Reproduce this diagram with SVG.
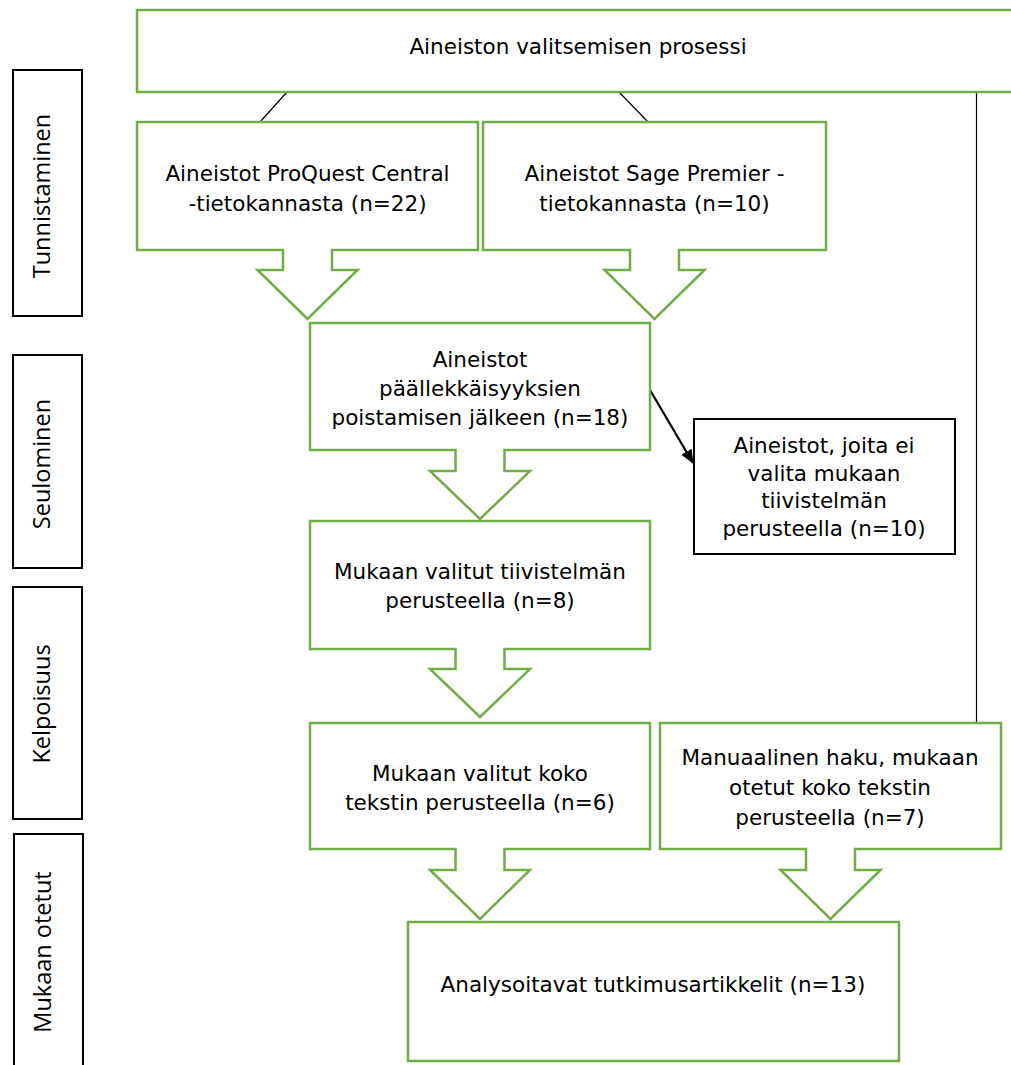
<svg xmlns="http://www.w3.org/2000/svg" width="1011" height="1065" viewBox="0 0 1011 1065">
<defs>
<style>
.g{fill:#fff;stroke:#70AD47;stroke-width:2.5}
.k{fill:#fff;stroke:#000;stroke-width:2}
.t{font-family:"DejaVu Sans",sans-serif;font-size:21.5px;fill:#000;text-anchor:middle}
.s{font-family:"Open Sans","Liberation Sans",sans-serif;font-size:23.5px;fill:#000;text-anchor:middle}
.ln{stroke:#000;stroke-width:1.2;fill:none}
</style>
<marker id="ah" markerWidth="14" markerHeight="14" refX="13" refY="7" orient="auto" markerUnits="userSpaceOnUse" viewBox="0 0 14 14">
<path d="M0,1 L14,7 L0,13 Z" fill="#000"/>
</marker>
</defs>
<rect width="1011" height="1065" fill="#fff"/>

<g id="side-tunnistaminen"><rect class="k" x="13" y="70" width="69" height="246"/><text class="s" transform="translate(50,196) rotate(-90)">Tunnistaminen</text></g>
<g id="side-seulominen"><rect class="k" x="13" y="355" width="69" height="213"/><text class="s" transform="translate(50,464) rotate(-90)">Seulominen</text></g>
<g id="side-kelpoisuus"><rect class="k" x="13" y="587" width="69" height="232"/><text class="s" transform="translate(50,704) rotate(-90)">Kelpoisuus</text></g>
<g id="side-mukaan"><rect class="k" x="14" y="834" width="69" height="240"/><text class="s" transform="translate(51,952) rotate(-90)">Mukaan otetut</text></g>

<g id="connectors">
<line class="ln" x1="287" y1="92" x2="260" y2="122"/>
<line class="ln" x1="619" y1="92" x2="648" y2="122"/>
<line class="ln" x1="976.5" y1="92" x2="976.5" y2="723"/>
<line x1="650" y1="390" x2="693" y2="463" stroke="#000" stroke-width="2.2" marker-end="url(#ah)"/>
</g>

<g id="top"><rect class="g" x="137" y="10" width="890" height="82"/><text class="t" x="578" y="54">Aineiston valitsemisen prosessi</text></g>

<g id="proquest"><path class="g" d="M137,122 H478 V250 H332 V270 H357.5 L307.5,319 L257.5,270 H283 V250 H137 Z"/>
<text class="t" x="307.5" y="181">Aineistot ProQuest Central</text><text class="t" x="307.5" y="211">-tietokannasta (n=22)</text></g>

<g id="sage"><path class="g" d="M483,122 H826 V250 H679 V270 H704.5 L654.5,319 L604.5,270 H630 V250 H483 Z"/>
<text class="t" x="654.5" y="181">Aineistot Sage Premier -</text><text class="t" x="654.5" y="211">tietokannasta (n=10)</text></g>

<g id="duplicates"><path class="g" d="M310,323 H650 V450 H504.5 V471 H530 L480,519 L430,471 H455.5 V450 H310 Z"/>
<text class="t" x="480" y="367">Aineistot</text><text class="t" x="480" y="396">päällekkäisyyksien</text><text class="t" x="480" y="425">poistamisen jälkeen (n=18)</text></g>

<g id="excluded"><rect class="k" x="694" y="419" width="261" height="135"/>
<text class="t" x="824" y="453">Aineistot, joita ei</text><text class="t" x="824" y="481">valita mukaan</text><text class="t" x="824" y="508">tiivistelmän</text><text class="t" x="824" y="536">perusteella (n=10)</text></g>

<g id="abstract"><path class="g" d="M310,521 H650 V649 H504.5 V669 H530 L480,717 L430,669 H455.5 V649 H310 Z"/>
<text class="t" x="480" y="579">Mukaan valitut tiivistelmän</text><text class="t" x="480" y="608">perusteella (n=8)</text></g>

<g id="fulltext"><path class="g" d="M310,723 H650 V849 H504.5 V870 H530 L480,919 L430,870 H455.5 V849 H310 Z"/>
<text class="t" x="480" y="781">Mukaan valitut koko</text><text class="t" x="480" y="810">tekstin perusteella (n=6)</text></g>

<g id="manual"><path class="g" d="M660,723 H1001 V849 H855 V870 H880.5 L830.5,919 L780.5,870 H806 V849 H660 Z"/>
<text class="t" x="830" y="765">Manuaalinen haku, mukaan</text><text class="t" x="830" y="795">otetut koko tekstin</text><text class="t" x="830" y="825">perusteella (n=7)</text></g>

<g id="final"><rect class="g" x="408" y="922" width="491" height="139"/>
<text class="t" x="653" y="992">Analysoitavat tutkimusartikkelit (n=13)</text></g>
</svg>
